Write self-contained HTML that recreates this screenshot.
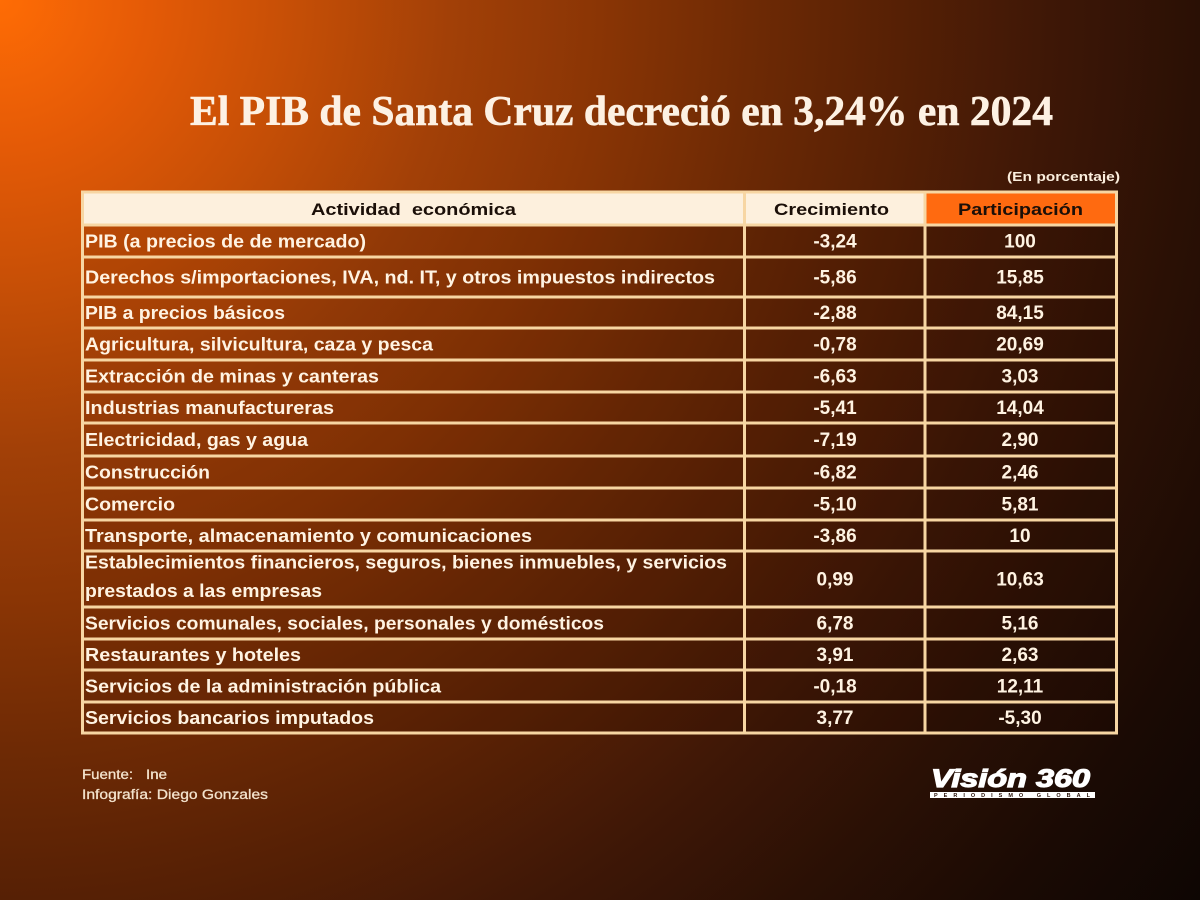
<!DOCTYPE html>
<html>
<head>
<meta charset="utf-8">
<style>
  html,body{margin:0;padding:0;}
  body{
    width:1200px;height:900px;overflow:hidden;
    background: radial-gradient(circle at 0px 0px,
      #ff6c05 0px, #e45a06 150px, #c44e06 300px, #a24007 450px, #8a3505 600px,
      #6e2a05 750px, #562005 900px, #3e1706 1050px, #2a1005 1200px, #1a0a04 1350px, #0e0603 1500px);
    font-family:"Liberation Sans", sans-serif;
  }
  svg{position:absolute;left:0;top:0;}
  .t{font-family:"Liberation Sans",sans-serif;font-weight:bold;font-size:18px;fill:#fff3e2;}
  .n{font-family:"Liberation Sans",sans-serif;font-weight:bold;font-size:19px;fill:#fff3e2;text-anchor:middle;}
  .h{font-family:"Liberation Sans",sans-serif;font-weight:bold;font-size:16.5px;fill:#1b0f08;}
</style>
</head>
<body>
<svg width="1200" height="900" viewBox="0 0 1200 900" xmlns="http://www.w3.org/2000/svg">
  <!-- Title -->
  <text x="190" y="125" font-family="Liberation Serif, serif" font-weight="bold" font-size="42" fill="#fdf1e3" stroke="#fdf1e3" stroke-width="0.6" textLength="863" lengthAdjust="spacingAndGlyphs">El PIB de Santa Cruz decreció en 3,24% en 2024</text>

  <!-- (En porcentaje) -->
  <text x="1007" y="181" font-family="Liberation Sans, sans-serif" font-weight="bold" font-size="12.5" fill="#fbeedd" textLength="113" lengthAdjust="spacingAndGlyphs">(En porcentaje)</text>

  <!-- table body overlay -->
  <rect x="81" y="191" width="1037" height="543" fill="rgba(30,8,0,0.12)"/>

  <!-- header cells -->
  <rect x="84" y="193" width="659" height="31" fill="#fdf0dd"/>
  <rect x="746" y="193" width="178" height="31" fill="#fdf0dd"/>
  <rect x="926" y="193" width="189" height="31" fill="#ff6a10"/>

  <!-- horizontal lines -->
  <g fill="#f7d6a3">
    <rect x="81" y="190.5" width="1037" height="3"/>
    <rect x="81" y="223.5" width="1037" height="3"/>
    <rect x="81" y="255.5" width="1037" height="3"/>
    <rect x="81" y="295.5" width="1037" height="3"/>
    <rect x="81" y="326.5" width="1037" height="3"/>
    <rect x="81" y="358.5" width="1037" height="3"/>
    <rect x="81" y="390.5" width="1037" height="3"/>
    <rect x="81" y="421.5" width="1037" height="3"/>
    <rect x="81" y="454.5" width="1037" height="3"/>
    <rect x="81" y="486.5" width="1037" height="3"/>
    <rect x="81" y="518.5" width="1037" height="3"/>
    <rect x="81" y="549.5" width="1037" height="3"/>
    <rect x="81" y="605.5" width="1037" height="3"/>
    <rect x="81" y="637.5" width="1037" height="3"/>
    <rect x="81" y="668.5" width="1037" height="3"/>
    <rect x="81" y="700.5" width="1037" height="3"/>
    <rect x="81" y="731.5" width="1037" height="3"/>
    <!-- vertical lines -->
    <rect x="81" y="190.5" width="3" height="544"/>
    <rect x="743" y="190.5" width="3" height="544"/>
    <rect x="923.5" y="190.5" width="3" height="544"/>
    <rect x="1115" y="190.5" width="3" height="544"/>
  </g>

  <!-- header text -->
  <text class="h" x="311" y="215" textLength="205" lengthAdjust="spacingAndGlyphs" xml:space="preserve">Actividad  económica</text>
  <text class="h" x="774" y="215" textLength="115" lengthAdjust="spacingAndGlyphs">Crecimiento</text>
  <text class="h" x="958" y="215" textLength="125" lengthAdjust="spacingAndGlyphs">Participación</text>

  <!-- rows: descriptions -->
  <text class="t" x="85" y="247.5" textLength="281" lengthAdjust="spacingAndGlyphs">PIB (a precios de de mercado)</text>
  <text class="t" x="85" y="283.5" textLength="630" lengthAdjust="spacingAndGlyphs">Derechos s/importaciones, IVA, nd. IT, y otros impuestos indirectos</text>
  <text class="t" x="85" y="319" textLength="200" lengthAdjust="spacingAndGlyphs">PIB a precios básicos</text>
  <text class="t" x="85" y="350.5" textLength="348" lengthAdjust="spacingAndGlyphs">Agricultura, silvicultura, caza y pesca</text>
  <text class="t" x="85" y="382.5" textLength="294" lengthAdjust="spacingAndGlyphs">Extracción de minas y canteras</text>
  <text class="t" x="85" y="414" textLength="249" lengthAdjust="spacingAndGlyphs">Industrias manufactureras</text>
  <text class="t" x="85" y="446" textLength="223" lengthAdjust="spacingAndGlyphs">Electricidad, gas y agua</text>
  <text class="t" x="85" y="478.5" textLength="125" lengthAdjust="spacingAndGlyphs">Construcción</text>
  <text class="t" x="85" y="510.5" textLength="90" lengthAdjust="spacingAndGlyphs">Comercio</text>
  <text class="t" x="85" y="542" textLength="447" lengthAdjust="spacingAndGlyphs">Transporte, almacenamiento y comunicaciones</text>
  <text class="t" x="85" y="568.5" textLength="642" lengthAdjust="spacingAndGlyphs">Establecimientos financieros, seguros, bienes inmuebles, y servicios</text>
  <text class="t" x="85" y="597" textLength="237" lengthAdjust="spacingAndGlyphs">prestados a las empresas</text>
  <text class="t" x="85" y="629.5" textLength="519" lengthAdjust="spacingAndGlyphs">Servicios comunales, sociales, personales y domésticos</text>
  <text class="t" x="85" y="661" textLength="216" lengthAdjust="spacingAndGlyphs">Restaurantes y hoteles</text>
  <text class="t" x="85" y="692.5" textLength="356" lengthAdjust="spacingAndGlyphs">Servicios de la administración pública</text>
  <text class="t" x="85" y="724" textLength="289" lengthAdjust="spacingAndGlyphs">Servicios bancarios imputados</text>

  <!-- Crecimiento -->
  <g>
    <text class="n" x="835" y="247.5">-3,24</text>
    <text class="n" x="835" y="283.5">-5,86</text>
    <text class="n" x="835" y="319">-2,88</text>
    <text class="n" x="835" y="350.5">-0,78</text>
    <text class="n" x="835" y="382.5">-6,63</text>
    <text class="n" x="835" y="414">-5,41</text>
    <text class="n" x="835" y="446">-7,19</text>
    <text class="n" x="835" y="478.5">-6,82</text>
    <text class="n" x="835" y="510.5">-5,10</text>
    <text class="n" x="835" y="542">-3,86</text>
    <text class="n" x="835" y="585.5">0,99</text>
    <text class="n" x="835" y="629.5">6,78</text>
    <text class="n" x="835" y="661">3,91</text>
    <text class="n" x="835" y="692.5">-0,18</text>
    <text class="n" x="835" y="724">3,77</text>
  </g>

  <!-- Participación -->
  <g>
    <text class="n" x="1020" y="247.5">100</text>
    <text class="n" x="1020" y="283.5">15,85</text>
    <text class="n" x="1020" y="319">84,15</text>
    <text class="n" x="1020" y="350.5">20,69</text>
    <text class="n" x="1020" y="382.5">3,03</text>
    <text class="n" x="1020" y="414">14,04</text>
    <text class="n" x="1020" y="446">2,90</text>
    <text class="n" x="1020" y="478.5">2,46</text>
    <text class="n" x="1020" y="510.5">5,81</text>
    <text class="n" x="1020" y="542">10</text>
    <text class="n" x="1020" y="585.5">10,63</text>
    <text class="n" x="1020" y="629.5">5,16</text>
    <text class="n" x="1020" y="661">2,63</text>
    <text class="n" x="1020" y="692.5">12,11</text>
    <text class="n" x="1020" y="724">-5,30</text>
  </g>

  <!-- Footer -->
  <text x="82" y="779" font-family="Liberation Sans, sans-serif" font-size="13.5" fill="#f3e2cc" stroke="#f3e2cc" stroke-width="0.3" textLength="51" lengthAdjust="spacingAndGlyphs">Fuente:</text>
  <text x="146" y="779" font-family="Liberation Sans, sans-serif" font-size="13.5" fill="#f3e2cc" stroke="#f3e2cc" stroke-width="0.3" textLength="21" lengthAdjust="spacingAndGlyphs">Ine</text>
  <text x="82" y="799" font-family="Liberation Sans, sans-serif" font-size="13.5" fill="#f3e2cc" stroke="#f3e2cc" stroke-width="0.3" textLength="186" lengthAdjust="spacingAndGlyphs">Infografía: Diego Gonzales</text>

  <!-- Logo -->
  <text x="931" y="787" font-family="Liberation Sans, sans-serif" font-weight="bold" font-style="italic" font-size="25" fill="#ffffff" stroke="#ffffff" stroke-width="1.2" textLength="159" lengthAdjust="spacingAndGlyphs">Visión 360</text>
  <rect x="930" y="792" width="165" height="6" fill="#ffffff"/>
  <text x="934" y="797" font-family="Liberation Sans, sans-serif" font-weight="bold" font-size="5.5" fill="#2a1208" textLength="156" lengthAdjust="spacing">PERIODISMO GLOBAL</text>
</svg>
</body>
</html>
